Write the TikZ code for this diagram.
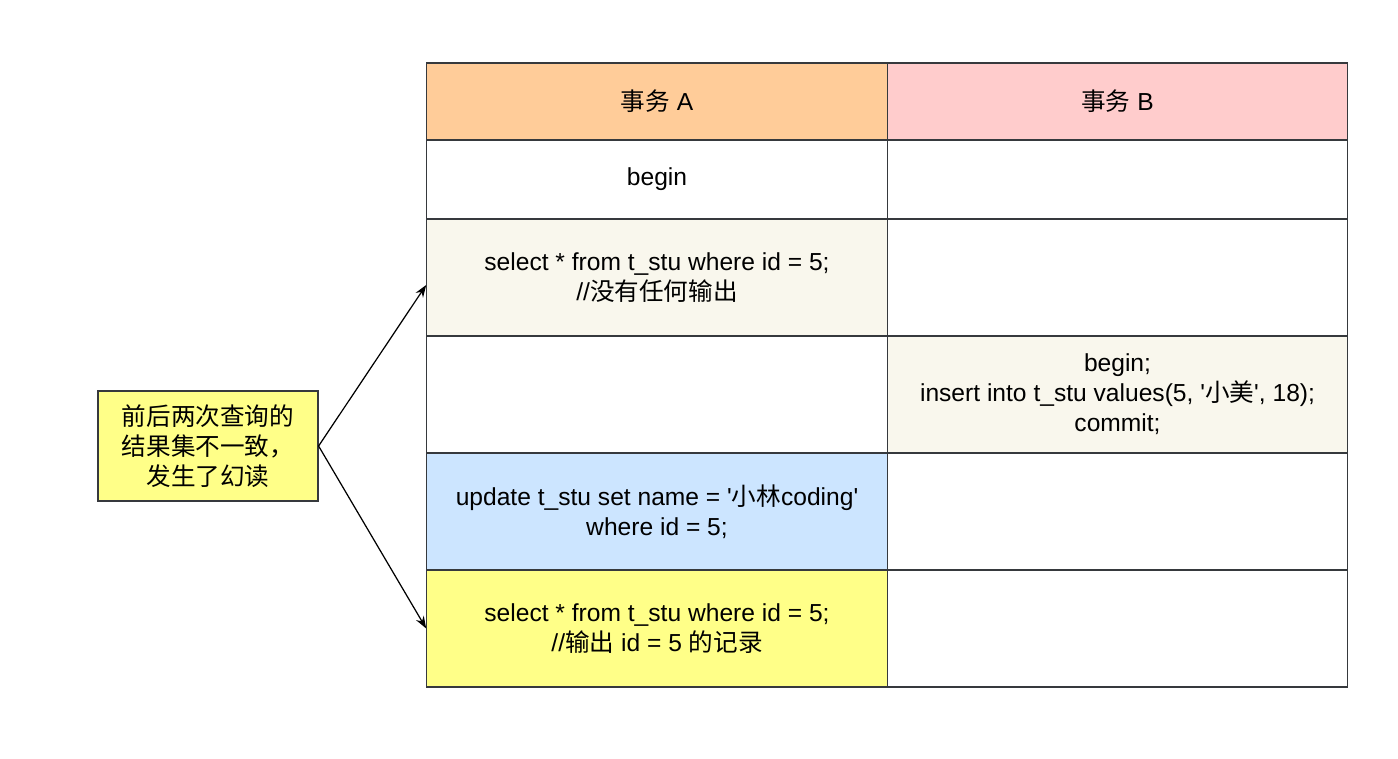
\documentclass[tikz,border=0pt]{standalone}
\usepackage{fontspec}
\setmainfont{Liberation Sans}
\newfontfamily\cjk{Noto Sans CJK SC}
\usetikzlibrary{arrows.meta}
\definecolor{hdrA}{HTML}{FFCC99}
\definecolor{hdrB}{HTML}{FFCCCC}
\definecolor{beige}{HTML}{F9F7ED}
\definecolor{lblue}{HTML}{CCE5FF}
\definecolor{lyell}{HTML}{FFFF88}
\definecolor{edge}{HTML}{36393D}
\newcommand{\sq}{\textquotesingle}
\tikzset{
  cell/.style={draw=edge, line width=0.7pt, rectangle, minimum width=9.21cm, align=center,
    inner sep=0pt, font=\fontsize{14}{17}\selectfont},
  hdr/.style={cell, minimum height=1.54cm},
  low/.style={cell, minimum height=1.58cm},
  tall/.style={cell, minimum height=2.34cm},
  note/.style={draw=edge, line width=0.7pt, fill=lyell, minimum width=4.4cm, minimum height=2.2cm,
    align=center, inner sep=0pt, font=\cjk\fontsize{14}{17}\selectfont},
}
\begin{document}
\begin{tikzpicture}[x=0.02cm, y=-0.02cm]
  \useasboundingbox (0,0) rectangle (1398,758);
  \node[hdr, fill=hdrA] (hA) at (657,101.5) {{\cjk 事务} A};
  \node[hdr, fill=hdrB] (hB) at (1117.5,101.5) {{\cjk 事务} B};

  \node[low] (a1) at (657,179.5) {begin};
  \node[low] (b1) at (1117.5,179.5) {};

  \node[tall, fill=beige] (a2) at (657,277.5) {select * from t\_stu where id = 5;\\//{\cjk 没有任何输出}};
  \node[tall] (b2) at (1117.5,277.5) {};

  \node[tall] (a3) at (657,394.5) {};
  \node[tall, fill=beige] (b3) at (1117.5,394.5) {begin;\\insert into t\_stu values(5, \sq{\cjk 小美}\sq, 18);\\commit;};

  \node[tall, fill=lblue] (a4) at (657,511.5) {update t\_stu set name = \sq{\cjk 小林}coding\sq\\where id = 5;};
  \node[tall] (b4) at (1117.5,511.5) {};

  \node[tall, fill=lyell] (a5) at (657,628.5) {select * from t\_stu where id = 5;\\//{\cjk 输出} id = 5 {\cjk 的记录}};
  \node[tall] (b5) at (1117.5,628.5) {};

  \node[note] (res) at (208,446) {前后两次查询的\\结果集不一致，\\发生了幻读};

  \draw[-{Stealth[length=7pt,width=5pt]}, line width=0.7pt] (res.east) to ([yshift=-0.15cm]a2.west);
  \draw[-{Stealth[length=7pt,width=5pt]}, line width=0.7pt] (res.east) to (a5.west);
\end{tikzpicture}
\end{document}
